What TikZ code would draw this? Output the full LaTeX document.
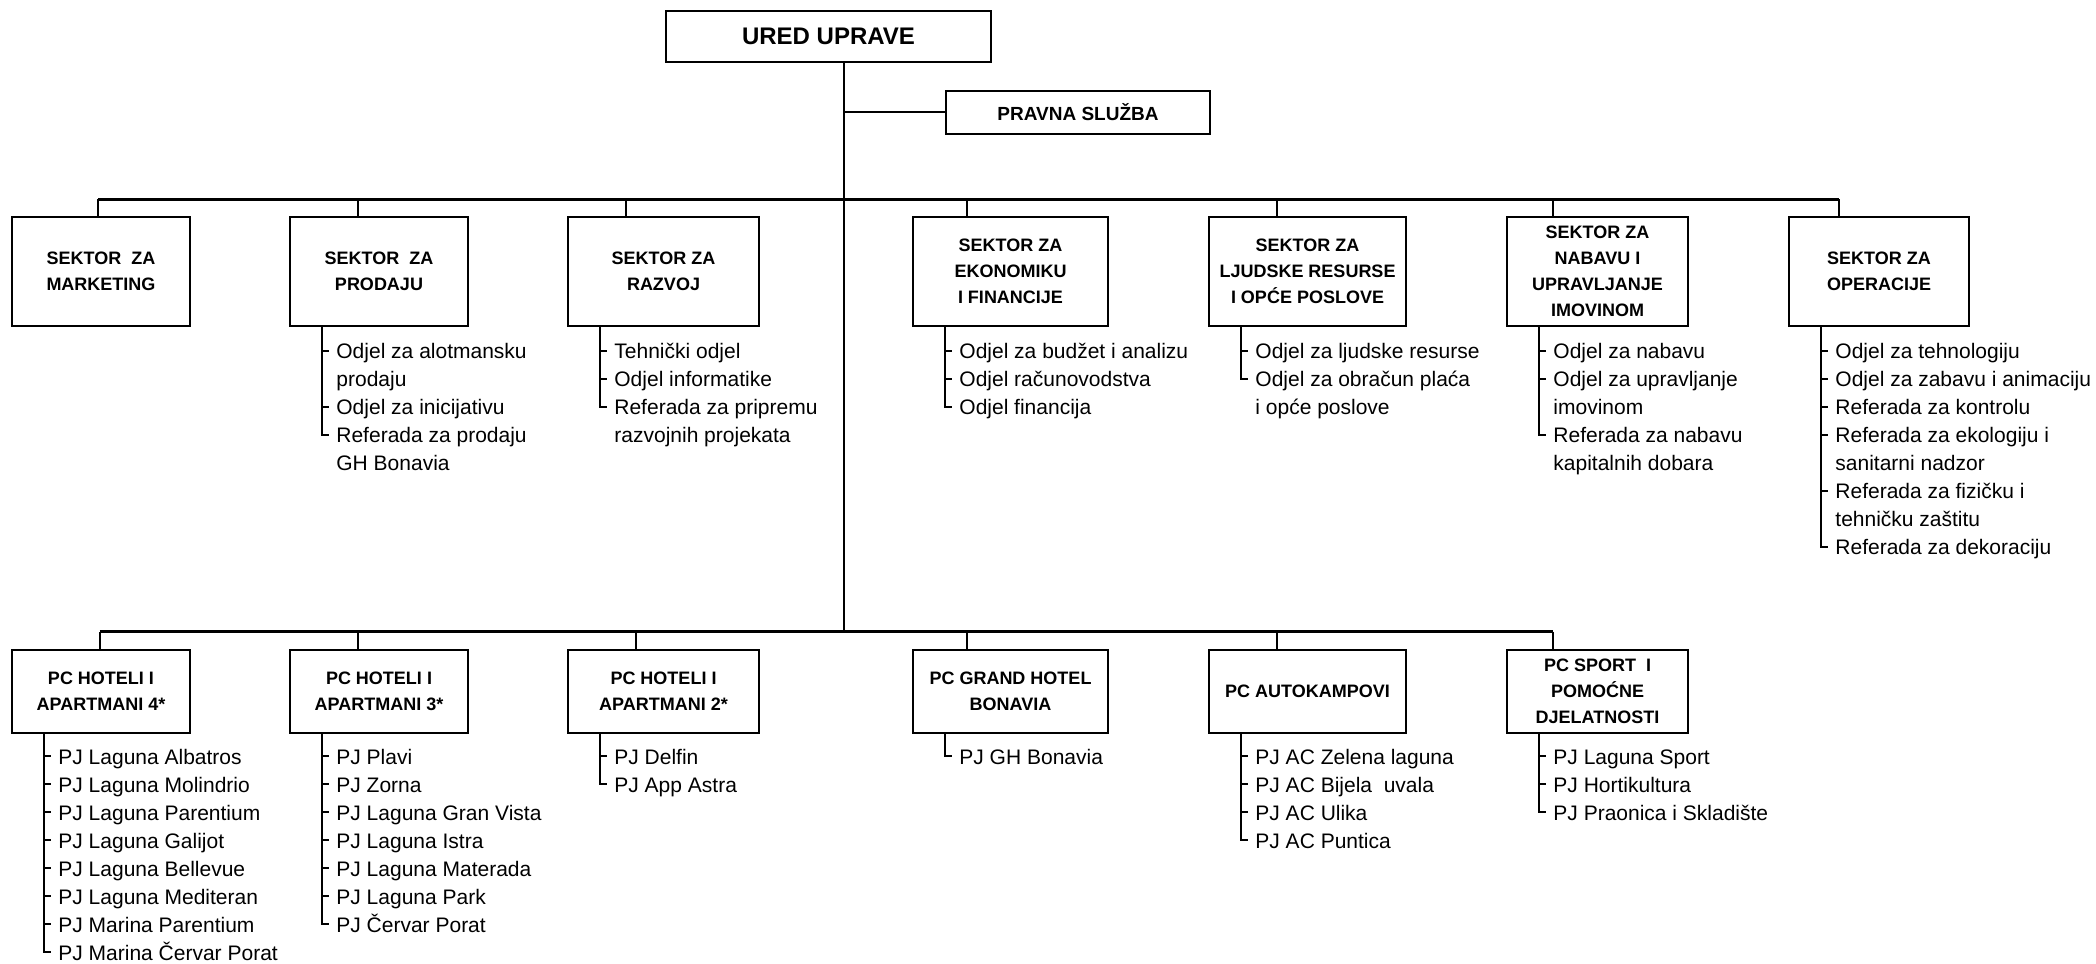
\documentclass[tikz,border=0pt]{standalone}
\usepackage{fontspec}
\setmainfont{Liberation Sans}
\usepackage{tikz}

\begin{document}
\begin{tikzpicture}[x=0.5pt, y=-0.5pt,
        unit/.style={draw, line width=1.1pt, align=center, inner sep=1pt, font=\bfseries\fontsize{9}{13}\selectfont},
        sektor/.style={unit, minimum height=54.5pt},
        centar/.style={unit, minimum height=41.5pt},
        item/.style={anchor=north west, align=left, inner sep=0pt, font=\fontsize{10.5}{14}\selectfont, execute at begin node=\strut},
        link/.style={line width=1pt},
        bus/.style={line width=1.5pt},
        sub/.style={line width=1.2pt, shorten >=3.5pt}]
        \useasboundingbox (0,0) rectangle (2096,963);

        \node[unit, minimum width=162.5pt, minimum height=25.5pt, font=\bfseries\fontsize{12}{14}\selectfont] (ured) at (828.5,36.5) {URED UPRAVE};
        \node[unit, minimum width=132pt, minimum height=21.5pt, font=\bfseries\fontsize{9.5}{13}\selectfont] (pravna) at (1078,112.5) {PRAVNA SLUŽBA};

        \node[sektor, minimum width=89pt] (s1) at (101,271.5) {SEKTOR\ \ ZA\\MARKETING};
        \node[sektor, minimum width=89pt] (s2) at (379,271.5) {SEKTOR\ \ ZA\\PRODAJU};
        \node[sektor, minimum width=95.5pt] (s3) at (663.5,271.5) {SEKTOR ZA\\RAZVOJ};
        \node[sektor, minimum width=97.5pt] (s4) at (1010.5,271.5) {SEKTOR ZA\\EKONOMIKU\\I FINANCIJE};
        \node[sektor, minimum width=98.5pt] (s5) at (1307.5,271.5) {SEKTOR ZA\\LJUDSKE RESURSE\\I OPĆE POSLOVE};
        \node[sektor, minimum width=90.5pt] (s6) at (1597.5,271.5) {SEKTOR ZA\\NABAVU I\\UPRAVLJANJE\\IMOVINOM};
        \node[sektor, minimum width=90pt] (s7) at (1879,271.5) {SEKTOR ZA\\OPERACIJE};

        \node[centar, minimum width=89pt] (p1) at (101,691.5) {PC HOTELI I\\APARTMANI 4*};
        \node[centar, minimum width=89pt] (p2) at (379,691.5) {PC HOTELI I\\APARTMANI 3*};
        \node[centar, minimum width=95.5pt] (p3) at (663.5,691.5) {PC HOTELI I\\APARTMANI 2*};
        \node[centar, minimum width=97.5pt] (p4) at (1010.5,691.5) {PC GRAND HOTEL\\BONAVIA};
        \node[centar, minimum width=98.5pt] (p5) at (1307.5,691.5) {PC AUTOKAMPOVI};
        \node[centar, minimum width=90.5pt] (p6) at (1597.5,691.5) {PC SPORT\ \ I\\POMOĆNE\\DJELATNOSTI};

        \coordinate (hub1) at (843.6,199.3);
        \coordinate (hub2) at (843.6,631.7);
        \coordinate (s1d) at (98,199.3);
        \coordinate (s2d) at (358,199.3);
        \coordinate (s3d) at (626,199.3);
        \coordinate (s4d) at (967,199.3);
        \coordinate (s5d) at (1277,199.3);
        \coordinate (s6d) at (1553,199.3);
        \coordinate (s7d) at (1839,199.3);
        \coordinate (p1d) at (99.6,631.7);
        \coordinate (p2d) at (358,631.7);
        \coordinate (p3d) at (636,631.7);
        \coordinate (p4d) at (967,631.7);
        \coordinate (p5d) at (1277,631.7);
        \coordinate (p6d) at (1553,631.7);

        \draw[link] (ured.south -| hub1) -- (hub2);
        \draw[link] (pravna.west -| hub1) -- (pravna.west);
        \draw[bus] (s1d) -- (s7d);
        \draw[bus] (p1d) -- (p6d);
        \draw[link] (s1d) -- (s1d |- s1.north);
        \draw[link] (s2d) -- (s2d |- s2.north);
        \draw[link] (s3d) -- (s3d |- s3.north);
        \draw[link] (s4d) -- (s4d |- s4.north);
        \draw[link] (s5d) -- (s5d |- s5.north);
        \draw[link] (s6d) -- (s6d |- s6.north);
        \draw[link] (s7d) -- (s7d |- s7.north);
        \draw[link] (p1d) -- (p1d |- p1.north);
        \draw[link] (p2d) -- (p2d |- p2.north);
        \draw[link] (p3d) -- (p3d |- p3.north);
        \draw[link] (p4d) -- (p4d |- p4.north);
        \draw[link] (p5d) -- (p5d |- p5.north);
        \draw[link] (p6d) -- (p6d |- p6.north);

        \coordinate (s2l) at ([xshift=16.5pt]s2.south west);
        \coordinate (s3l) at ([xshift=16.5pt]s3.south west);
        \coordinate (s4l) at ([xshift=16.5pt]s4.south west);
        \coordinate (s5l) at ([xshift=16.5pt]s5.south west);
        \coordinate (s6l) at ([xshift=16.5pt]s6.south west);
        \coordinate (s7l) at ([xshift=16.5pt]s7.south west);
        \coordinate (p1l) at ([xshift=16.5pt]p1.south west);
        \coordinate (p2l) at ([xshift=16.5pt]p2.south west);
        \coordinate (p3l) at ([xshift=16.5pt]p3.south west);
        \coordinate (p4l) at ([xshift=16.5pt]p4.south west);
        \coordinate (p5l) at ([xshift=16.5pt]p5.south west);
        \coordinate (p6l) at ([xshift=16.5pt]p6.south west);

        \node[item] (s2a) at (336,338.7) {\strut Odjel za alotmansku\\prodaju};
        \node[item] (s2b) at (336,394.7) {Odjel za inicijativu};
        \node[item] (s2c) at (336,422.7) {\strut Referada za prodaju\\GH Bonavia};

        \node[item] (s3a) at (614,338.7) {Tehnički odjel};
        \node[item] (s3b) at (614,366.7) {Odjel informatike};
        \node[item] (s3c) at (614,394.7) {\strut Referada za pripremu\\razvojnih projekata};

        \node[item] (s4a) at (959,338.7) {Odjel za budžet i analizu};
        \node[item] (s4b) at (959,366.7) {Odjel računovodstva};
        \node[item] (s4c) at (959,394.7) {Odjel financija};

        \node[item] (s5a) at (1255,338.7) {Odjel za ljudske resurse};
        \node[item] (s5b) at (1255,366.7) {\strut Odjel za obračun plaća\\i opće poslove};

        \node[item] (s6a) at (1553,338.7) {Odjel za nabavu};
        \node[item] (s6b) at (1553,366.7) {\strut Odjel za upravljanje\\imovinom};
        \node[item] (s6c) at (1553,422.7) {\strut Referada za nabavu\\kapitalnih dobara};

        \node[item] (s7a) at (1835,338.7) {Odjel za tehnologiju};
        \node[item] (s7b) at (1835,366.7) {Odjel za zabavu i animaciju};
        \node[item] (s7c) at (1835,394.7) {Referada za kontrolu};
        \node[item] (s7d) at (1835,422.7) {\strut Referada za ekologiju i\\sanitarni nadzor};
        \node[item] (s7e) at (1835,478.7) {\strut Referada za fizičku i\\tehničku zaštitu};
        \node[item] (s7f) at (1835,534.7) {Referada za dekoraciju};

        \node[item] (p1a) at (58,744) {PJ Laguna Albatros};
        \node[item] (p1b) at (58,772) {PJ Laguna Molindrio};
        \node[item] (p1c) at (58,800) {PJ Laguna Parentium};
        \node[item] (p1d) at (58,828) {PJ Laguna Galijot};
        \node[item] (p1e) at (58,856) {PJ Laguna Bellevue};
        \node[item] (p1f) at (58,884) {PJ Laguna Mediteran};
        \node[item] (p1g) at (58,912) {PJ Marina Parentium};
        \node[item] (p1h) at (58,940) {PJ Marina Červar Porat};

        \node[item] (p2a) at (336,744) {PJ Plavi};
        \node[item] (p2b) at (336,772) {PJ Zorna};
        \node[item] (p2c) at (336,800) {PJ Laguna Gran Vista};
        \node[item] (p2d) at (336,828) {PJ Laguna Istra};
        \node[item] (p2e) at (336,856) {PJ Laguna Materada};
        \node[item] (p2f) at (336,884) {PJ Laguna Park};
        \node[item] (p2g) at (336,912) {PJ Červar Porat};

        \node[item] (p3a) at (614,744) {PJ Delfin};
        \node[item] (p3b) at (614,772) {PJ App Astra};

        \node[item] (p4a) at (959,744) {PJ GH Bonavia};

        \node[item] (p5a) at (1255,744) {PJ AC Zelena laguna};
        \node[item] (p5b) at (1255,772) {PJ AC Bijela\ \ uvala};
        \node[item] (p5c) at (1255,800) {PJ AC Ulika};
        \node[item] (p5d) at (1255,828) {PJ AC Puntica};

        \node[item] (p6a) at (1553,744) {PJ Laguna Sport};
        \node[item] (p6b) at (1553,772) {PJ Hortikultura};
        \node[item] (p6c) at (1553,800) {PJ Praonica i Skladište};

        \draw[sub] (s2l) |- ([yshift=-6pt]s2a.north west);
        \draw[sub] (s2l) |- ([yshift=-6pt]s2b.north west);
        \draw[sub] (s2l) |- ([yshift=-6pt]s2c.north west);
        \draw[sub] (s3l) |- ([yshift=-6pt]s3a.north west);
        \draw[sub] (s3l) |- ([yshift=-6pt]s3b.north west);
        \draw[sub] (s3l) |- ([yshift=-6pt]s3c.north west);
        \draw[sub] (s4l) |- ([yshift=-6pt]s4a.north west);
        \draw[sub] (s4l) |- ([yshift=-6pt]s4b.north west);
        \draw[sub] (s4l) |- ([yshift=-6pt]s4c.north west);
        \draw[sub] (s5l) |- ([yshift=-6pt]s5a.north west);
        \draw[sub] (s5l) |- ([yshift=-6pt]s5b.north west);
        \draw[sub] (s6l) |- ([yshift=-6pt]s6a.north west);
        \draw[sub] (s6l) |- ([yshift=-6pt]s6b.north west);
        \draw[sub] (s6l) |- ([yshift=-6pt]s6c.north west);
        \draw[sub] (s7l) |- ([yshift=-6pt]s7a.north west);
        \draw[sub] (s7l) |- ([yshift=-6pt]s7b.north west);
        \draw[sub] (s7l) |- ([yshift=-6pt]s7c.north west);
        \draw[sub] (s7l) |- ([yshift=-6pt]s7d.north west);
        \draw[sub] (s7l) |- ([yshift=-6pt]s7e.north west);
        \draw[sub] (s7l) |- ([yshift=-6pt]s7f.north west);

        \draw[sub] (p1l) |- ([yshift=-6pt]p1a.north west);
        \draw[sub] (p1l) |- ([yshift=-6pt]p1b.north west);
        \draw[sub] (p1l) |- ([yshift=-6pt]p1c.north west);
        \draw[sub] (p1l) |- ([yshift=-6pt]p1d.north west);
        \draw[sub] (p1l) |- ([yshift=-6pt]p1e.north west);
        \draw[sub] (p1l) |- ([yshift=-6pt]p1f.north west);
        \draw[sub] (p1l) |- ([yshift=-6pt]p1g.north west);
        \draw[sub] (p1l) |- ([yshift=-6pt]p1h.north west);
        \draw[sub] (p2l) |- ([yshift=-6pt]p2a.north west);
        \draw[sub] (p2l) |- ([yshift=-6pt]p2b.north west);
        \draw[sub] (p2l) |- ([yshift=-6pt]p2c.north west);
        \draw[sub] (p2l) |- ([yshift=-6pt]p2d.north west);
        \draw[sub] (p2l) |- ([yshift=-6pt]p2e.north west);
        \draw[sub] (p2l) |- ([yshift=-6pt]p2f.north west);
        \draw[sub] (p2l) |- ([yshift=-6pt]p2g.north west);
        \draw[sub] (p3l) |- ([yshift=-6pt]p3a.north west);
        \draw[sub] (p3l) |- ([yshift=-6pt]p3b.north west);
        \draw[sub] (p4l) |- ([yshift=-6pt]p4a.north west);
        \draw[sub] (p5l) |- ([yshift=-6pt]p5a.north west);
        \draw[sub] (p5l) |- ([yshift=-6pt]p5b.north west);
        \draw[sub] (p5l) |- ([yshift=-6pt]p5c.north west);
        \draw[sub] (p5l) |- ([yshift=-6pt]p5d.north west);
        \draw[sub] (p6l) |- ([yshift=-6pt]p6a.north west);
        \draw[sub] (p6l) |- ([yshift=-6pt]p6b.north west);
        \draw[sub] (p6l) |- ([yshift=-6pt]p6c.north west);
    \end{tikzpicture}
\end{document}
